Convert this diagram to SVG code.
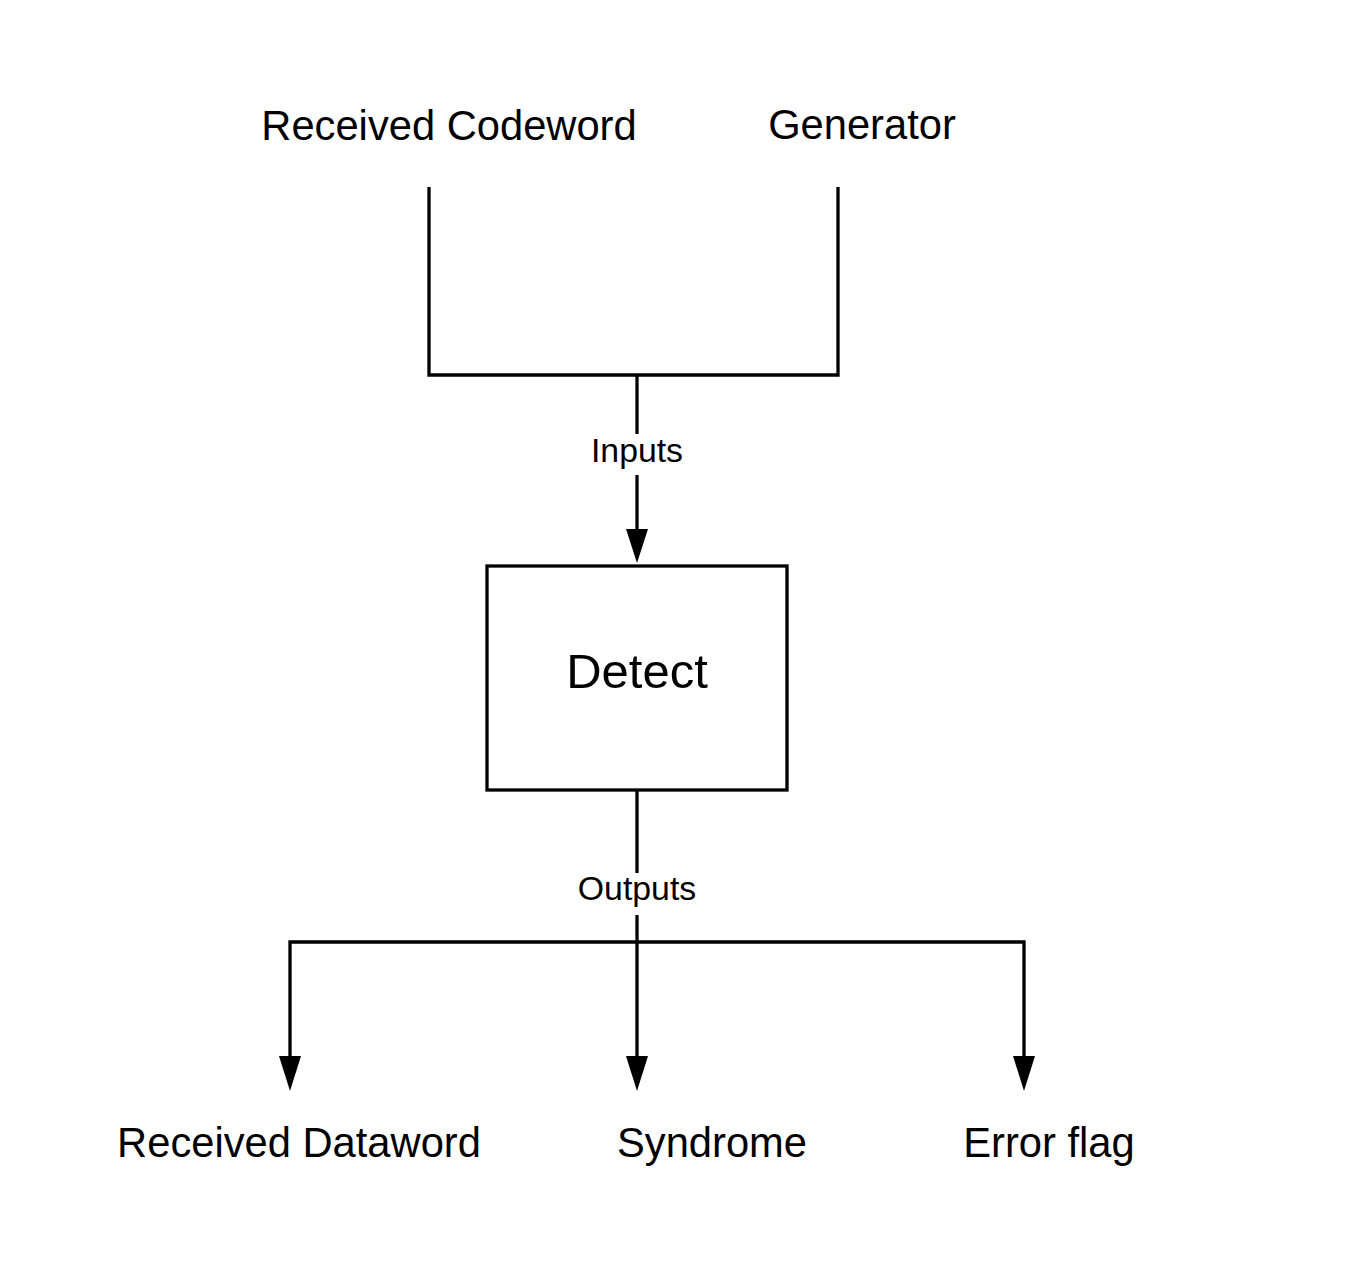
<svg xmlns="http://www.w3.org/2000/svg" width="1350" height="1283" viewBox="0 0 1350 1283">
<style>
text{font-family:"Liberation Sans",Arial,sans-serif;fill:#000;text-anchor:middle}
.big{font-size:41.7px}
.lbl{font-size:33.8px}
.ln{fill:none;stroke:#000;stroke-width:3.3}
</style>
<rect width="1350" height="1283" fill="#fff"/>
<g id="connectors">
<path class="ln" d="M429,187 V375 H838 V187"/>
<path class="ln" d="M637,375 V530"/>
<path d="M626,529 L648,529 L637,563 Z" fill="#000"/>
<path class="ln" d="M637,790 V1058"/>
<path class="ln" d="M290,1058 V942 H1024 V1058"/>
<path d="M279,1056 L301,1056 L290,1091 Z" fill="#000"/>
<path d="M626,1056 L648,1056 L637,1091 Z" fill="#000"/>
<path d="M1013,1056 L1035,1056 L1024,1091 Z" fill="#000"/>
<rect x="588" y="434" width="98" height="41" fill="#fff"/>
<text class="lbl" x="637" y="462">Inputs</text>
<rect x="574" y="873" width="126" height="42" fill="#fff"/>
<text class="lbl" x="637" y="900">Outputs</text>
</g>
<g id="received-codeword"><text class="big" x="449" y="140">Received Codeword</text></g>
<g id="generator"><text class="big" x="862" y="139">Generator</text></g>
<g id="detect">
<rect x="487" y="566" width="300" height="224" fill="#fff" stroke="#000" stroke-width="3.3"/>
<text x="637" y="688" style="font-size:49px">Detect</text>
</g>
<g id="received-dataword"><text class="big" x="299" y="1157">Received Dataword</text></g>
<g id="syndrome"><text class="big" x="712" y="1157">Syndrome</text></g>
<g id="error-flag"><text class="big" x="1049" y="1157">Error flag</text></g>
</svg>
